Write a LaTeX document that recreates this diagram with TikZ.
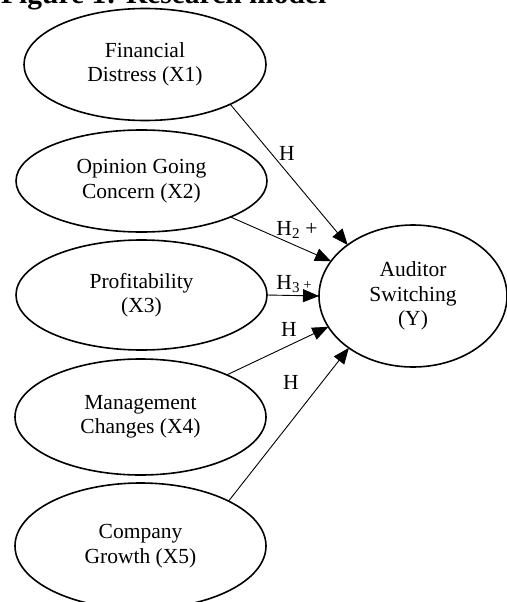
\documentclass[tikz,border=0pt]{standalone}
\usepackage{fontspec}
\setmainfont{Liberation Serif}
\usetikzlibrary{shapes.geometric,arrows.meta}
\begin{document}
\begin{tikzpicture}[x=1pt,y=-1pt,
  var/.style={ellipse,draw,line width=1.6pt,inner sep=0pt,outer sep=0pt,
    align=center,font=\fontsize{21.5}{24.5}\selectfont},
  link/.style={line width=0.9pt,-{Triangle[length=16pt,width=13pt]}},
  hlab/.style={inner sep=0pt,font=\fontsize{21.5}{24.5}\selectfont}]
\useasboundingbox[fill=white] (0,0) rectangle (506,602);
\node[anchor=base west,inner sep=0pt,font=\bfseries\fontsize{29.5}{32}\selectfont] (title) at (1,3.5) {Figure 1: Research model};
\node[var,minimum width=242pt,minimum height=112pt] (x1) at (145,64.5) {Financial\\Distress (X1)};
\node[var,minimum width=251pt,minimum height=102pt] (x2) at (141.5,181) {Opinion Going\\Concern (X2)};
\node[var,minimum width=251pt,minimum height=110pt] (x3) at (141.5,295) {Profitability\\(X3)};
\node[var,minimum width=251pt,minimum height=116pt] (x4) at (140.5,417) {Management\\Changes (X4)};
\node[var,minimum width=251pt,minimum height=126pt] (x5) at (140.5,546) {Company\\Growth (X5)};
\node[var,minimum width=188pt,minimum height=142pt] (y) at (413,296) {Auditor\\Switching\\(Y)};
\node[hlab] (h1) at (287,153) {H};
\node[hlab] (h2) at (297,230) {H\textsubscript{2} +};
\node[hlab] (h3) at (294,284) {H\textsubscript{3}\,{\fontsize{14}{14}\selectfont +}};
\node[hlab] (h4) at (289,329) {H};
\node[hlab] (h5) at (291,382) {H};
\draw[link] (x1.-25) -- (y.142);
\draw[link] (x2.-22.6) -- (y.157);
\draw[link] (x3.0) -- (y.180);
\draw[link] (x4.26) -- (y.200.5);
\draw[link] (x5.27) -- (y.219.5);
\end{tikzpicture}
\end{document}
